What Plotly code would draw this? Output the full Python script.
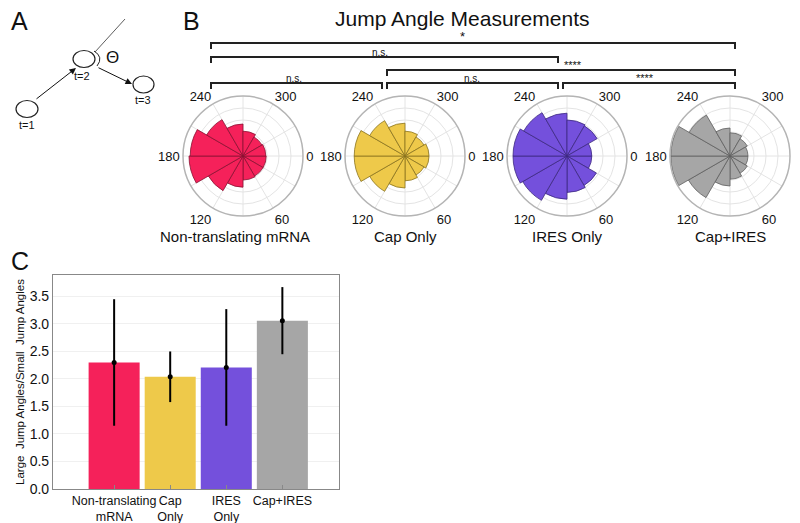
import plotly.graph_objects as go

# ---------------- data ----------------
bin_centers = [15, 45, 75, 105, 135, 165, 195, 225, 255, 285, 315, 345]
red_r    = [0.058, 0.058, 0.060, 0.078, 0.100, 0.135, 0.132, 0.105, 0.080, 0.062, 0.055, 0.057]
yellow_r = [0.060, 0.055, 0.062, 0.080, 0.102, 0.127, 0.127, 0.102, 0.082, 0.062, 0.055, 0.060]
purple_r = [0.062, 0.085, 0.091, 0.108, 0.128, 0.135, 0.135, 0.125, 0.107, 0.090, 0.087, 0.062]
gray_r   = [0.045, 0.050, 0.058, 0.075, 0.120, 0.148, 0.148, 0.118, 0.070, 0.058, 0.050, 0.045]

groups = ["Non-translating mRNA", "Cap Only", "IRES Only", "Cap+IRES"]
bar_labels = ["Non-translating<br>mRNA", "Cap<br>Only", "IRES<br>Only", "Cap+IRES"]
ratio_mean = [2.30, 2.04, 2.21, 3.06]
ratio_err = [1.15, 0.46, 1.06, 0.61]

fill_colors = ["#F5215A", "#EEC94A", "#7450DC", "#A6A6A6"]
line_colors = ["#8A1232", "#8A7420", "#3E2A80", "#606060"]

W, H = 800, 523
OFF = 8  # page body margin of the html page
FONT = "Liberation Sans, Arial, sans-serif"

def px(x):
    return (x - OFF) / W

def py(y):
    return 1 - (y - OFF) / H

fig = go.Figure()
layout = dict(width=W, height=H, autosize=False,
              margin=dict(l=0, r=0, t=0, b=0, autoexpand=False),
              paper_bgcolor="white", plot_bgcolor="white",
              font=dict(family=FONT, color="#111"),
              showlegend=False)

# ---------------- polar histograms ----------------
centers_x = [243, 405, 567, 730]
label_x = [235, 405, 567, 730]
cy = 156
R = 60
all_r = [red_r, yellow_r, purple_r, gray_r]
annotations = []
for i, (cx, rv) in enumerate(zip(centers_x, all_r)):
    key = "polar" if i == 0 else f"polar{i+1}"
    fig.add_trace(go.Barpolar(r=rv, theta=bin_centers, width=[30] * 12,
                              marker=dict(color=fill_colors[i],
                                          line=dict(color=line_colors[i], width=0.8)),
                              opacity=1.0, subplot=key, hoverinfo="skip"))
    layout[key] = dict(
        domain=dict(x=[px(cx - R), px(cx + R)], y=[py(cy + R), py(cy - R)]),
        bgcolor="white",
        angularaxis=dict(direction="clockwise", rotation=0,
                         tickmode="array", tickvals=list(range(0, 360, 30)),
                         ticktext=["0", "", "60", "", "120", "", "180", "", "240", "", "300", ""],
                         ticks="", showline=True, linecolor="#b4b4b4", linewidth=1.5,
                         gridcolor="#e4e4e4", gridwidth=1,
                         tickfont=dict(size=13, color="#111", family=FONT)),
        radialaxis=dict(range=[0, 0.15], dtick=0.03, showticklabels=False, ticks="",
                        showline=False, gridcolor="#e4e4e4", gridwidth=1),
    )
    annotations.append(dict(x=px(label_x[i]), y=py(236), xref="paper", yref="paper",
                            text=groups[i], showarrow=False,
                            font=dict(size=15, color="#111", family=FONT)))

# ---------------- bar chart (panel C) ----------------
xpos = [1, 2, 3, 4]
fig.add_trace(go.Bar(x=xpos, y=ratio_mean, width=0.91,
                     marker=dict(color=fill_colors, line=dict(width=0)),
                     xaxis="x", yaxis="y", hoverinfo="skip"))
fig.add_trace(go.Scatter(x=xpos, y=ratio_mean, mode="markers",
                         marker=dict(color="black", size=5),
                         error_y=dict(type="data", array=ratio_err, color="black",
                                      thickness=2, width=0),
                         xaxis="x", yaxis="y", hoverinfo="skip"))
layout["xaxis"] = dict(domain=[px(53), px(339)], range=[-0.09, 5.01],
                       tickmode="array", tickvals=xpos, ticktext=bar_labels,
                       tickangle=0,
                       ticks="inside", ticklen=4, tickcolor="#888",
                       showline=True, linecolor="#888", linewidth=1.2, mirror=True,
                       showgrid=False, zeroline=False,
                       tickfont=dict(size=12.5, color="#111", family=FONT), anchor="y")
layout["yaxis"] = dict(domain=[py(489), py(275)], range=[0, 3.89],
                       tickmode="array", tickvals=[0, 0.5, 1, 1.5, 2, 2.5, 3, 3.5],
                       ticktext=["0.0", "0.5", "1.0", "1.5", "2.0", "2.5", "3.0", "3.5"],
                       ticks="", showline=True, linecolor="#888", linewidth=1.2, mirror=True,
                       showgrid=True, gridcolor="#f0f0f0", zeroline=False,
                       tickfont=dict(size=14, color="#111", family=FONT), anchor="x",
                       title=dict(text="Large  Jump Angles/Small  Jump Angles",
                                  font=dict(size=11.5, color="#111", family=FONT), standoff=2))

# ---------------- text ----------------
annotations += [
    dict(x=px(9), y=py(21), text="A", font=dict(size=25), xanchor="left"),
    dict(x=px(191), y=py(21), text="B", font=dict(size=25)),
    dict(x=px(9), y=py(261), text="C", font=dict(size=25), xanchor="left"),
    dict(x=px(462), y=py(18), text="Jump Angle Measurements", font=dict(size=21)),
    dict(x=px(462), y=py(37), text="*", font=dict(size=13)),
    dict(x=px(380), y=py(52), text="n.s.", font=dict(size=10)),
    dict(x=px(573), y=py(65), text="****", font=dict(size=11)),
    dict(x=px(294), y=py(78), text="n.s.", font=dict(size=10)),
    dict(x=px(472), y=py(78), text="n.s.", font=dict(size=10)),
    dict(x=px(645), y=py(78), text="****", font=dict(size=11)),
    dict(x=px(27), y=py(125), text="t=1", font=dict(size=11)),
    dict(x=px(82), y=py(76), text="t=2", font=dict(size=11)),
    dict(x=px(143), y=py(100), text="t=3", font=dict(size=11)),
    dict(x=px(112), y=py(57), text="Θ", font=dict(size=17)),
]
for a in annotations:
    a.setdefault("xref", "paper")
    a.setdefault("yref", "paper")
    a.setdefault("showarrow", False)
    a.setdefault("xanchor", "center")
    a.setdefault("yanchor", "middle")
    f = a.setdefault("font", {})
    f.setdefault("family", FONT)
    f.setdefault("color", "#111")

# arrows in panel A (tail offsets in pixels)
annotations += [
    dict(x=px(76), y=py(68), ax=-41, ay=32, xref="paper", yref="paper",
         axref="pixel", ayref="pixel", showarrow=True, arrowhead=2, arrowsize=1.3,
         arrowwidth=1, arrowcolor="#111", text=""),
    dict(x=px(132), y=py(84), ax=-35, ay=-17, xref="paper", yref="paper",
         axref="pixel", ayref="pixel", showarrow=True, arrowhead=2, arrowsize=1.3,
         arrowwidth=1, arrowcolor="#111", text=""),
]
layout["annotations"] = annotations

# shapes: brackets + diagram
shapes = []
def bracket(x0, x1, y, drop=6):
    shapes.append(dict(type="path", xref="paper", yref="paper",
                       path=f"M {px(x0)},{py(y+drop)} L {px(x0)},{py(y)} L {px(x1)},{py(y)} L {px(x1)},{py(y+drop)}",
                       line=dict(color="#222", width=2)))
bracket(211, 735, 43)
bracket(211, 558, 57)
bracket(387, 735, 70)
bracket(211, 382, 83)
bracket(387, 558, 83)
bracket(563, 735, 83)

def ellipse(cx, cy_, rx, ry):
    shapes.append(dict(type="circle", xref="paper", yref="paper",
                       x0=px(cx - rx), x1=px(cx + rx), y0=py(cy_ + ry), y1=py(cy_ - ry),
                       line=dict(color="#222", width=1.2), fillcolor="white"))
ellipse(27, 109, 11, 8.5)
ellipse(84, 59, 11, 8.5)
ellipse(143.5, 84.5, 10.5, 8.5)
shapes.append(dict(type="line", xref="paper", yref="paper",
                   x0=px(95), y0=py(52), x1=px(125), y1=py(19),
                   line=dict(color="#333", width=0.8)))
shapes.append(dict(type="path", xref="paper", yref="paper",
                   path=f"M {px(94)},{py(51)} Q {px(104)},{py(57)} {px(97)},{py(66)}",
                   line=dict(color="#222", width=1)))
layout["shapes"] = shapes

fig.update_layout(**layout)
fig.write_html("out.html")
